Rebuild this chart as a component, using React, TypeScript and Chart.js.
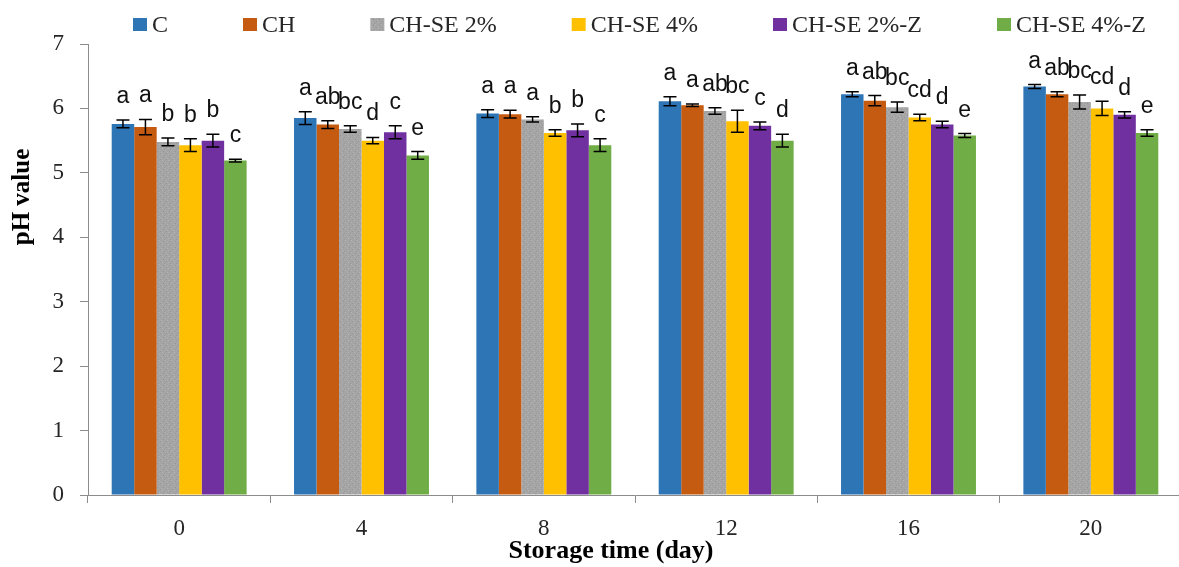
import { useEffect, useRef } from 'react';
import { Chart, registerables } from 'chart.js';

Chart.register(...registerables);

const categories = ['0', '4', '8', '12', '16', '20'];
const seriesNames = ['C', 'CH', 'CH-SE 2%', 'CH-SE 4%', 'CH-SE 2%-Z', 'CH-SE 4%-Z'];

const valuesC = [5.76, 5.85, 5.92, 6.11, 6.22, 6.34];
const valuesCH = [5.71, 5.75, 5.91, 6.05, 6.12, 6.22];
const valuesSE2 = [5.48, 5.68, 5.83, 5.96, 6.02, 6.10];
const valuesSE4 = [5.43, 5.50, 5.62, 5.80, 5.86, 6.00];
const valuesSE2Z = [5.50, 5.63, 5.66, 5.73, 5.75, 5.90];
const valuesSE4Z = [5.19, 5.27, 5.43, 5.50, 5.58, 5.62];

const errC = [0.06, 0.10, 0.06, 0.07, 0.04, 0.03];
const errCH = [0.12, 0.06, 0.06, 0.02, 0.08, 0.04];
const errSE2 = [0.06, 0.05, 0.04, 0.05, 0.08, 0.11];
const errSE4 = [0.10, 0.05, 0.05, 0.17, 0.05, 0.11];
const errSE2Z = [0.10, 0.10, 0.10, 0.06, 0.05, 0.05];
const errSE4Z = [0.02, 0.06, 0.10, 0.10, 0.03, 0.05];

const lettersC = ['a', 'a', 'a', 'a', 'a', 'a'];
const lettersCH = ['a', 'ab', 'a', 'a', 'ab', 'ab'];
const lettersSE2 = ['b', 'bc', 'a', 'ab', 'bc', 'bc'];
const lettersSE4 = ['b', 'd', 'b', 'bc', 'cd', 'cd'];
const lettersSE2Z = ['b', 'c', 'b', 'c', 'd', 'd'];
const lettersSE4Z = ['c', 'e', 'c', 'd', 'e', 'e'];

const yTicks = [0, 1, 2, 3, 4, 5, 6, 7];

const SERIF = '"Liberation Serif", "Times New Roman", serif';
const SANS = '"Liberation Sans", Arial, sans-serif';

function makeTexture(): CanvasPattern | string {
  const c = document.createElement('canvas');
  c.width = 6;
  c.height = 6;
  const g = c.getContext('2d');
  if (!g) return '#A5A5A5';
  g.fillStyle = '#A5A5A5';
  g.fillRect(0, 0, 6, 6);
  g.fillStyle = '#979797';
  g.fillRect(1, 1, 1, 1);
  g.fillRect(4, 3, 1, 1);
  g.fillRect(2, 5, 1, 1);
  g.fillStyle = '#B3B3B3';
  g.fillRect(3, 0, 1, 1);
  g.fillRect(0, 4, 1, 1);
  g.fillRect(5, 2, 1, 1);
  return g.createPattern(c, 'repeat') || '#A5A5A5';
}

export default function App() {
  const ref = useRef<HTMLCanvasElement | null>(null);

  useEffect(() => {
    if (!ref.current) return;
    const texture = makeTexture();
    const colors: any[] = ['#2E75B6', '#C55A11', texture, '#FFC000', '#7030A0', '#70AD47'];
    const values = [valuesC, valuesCH, valuesSE2, valuesSE4, valuesSE2Z, valuesSE4Z];
    const errs = [errC, errCH, errSE2, errSE4, errSE2Z, errSE4Z];
    const letters = [lettersC, lettersCH, lettersSE2, lettersSE4, lettersSE2Z, lettersSE4Z];

    const errorPlugin = {
      id: 'errorLetters',
      afterDatasetsDraw(chart: any) {
        const ctx = chart.ctx;
        const yScale = chart.scales.y;
        ctx.save();
        chart.data.datasets.forEach((ds: any, di: number) => {
          const meta = chart.getDatasetMeta(di);
          meta.data.forEach((bar: any, i: number) => {
            const v = values[di][i];
            const e = errs[di][i];
            const x = bar.x;
            const yTop = yScale.getPixelForValue(v + e);
            const yBot = yScale.getPixelForValue(v - e);
            ctx.strokeStyle = '#000';
            ctx.lineWidth = 1.5;
            ctx.beginPath();
            ctx.moveTo(x, yTop);
            ctx.lineTo(x, yBot);
            ctx.moveTo(x - 6.5, yTop);
            ctx.lineTo(x + 6.5, yTop);
            ctx.moveTo(x - 6.5, yBot);
            ctx.lineTo(x + 6.5, yBot);
            ctx.stroke();
            ctx.fillStyle = '#111';
            ctx.font = '23px ' + SANS;
            ctx.textAlign = 'center';
            ctx.textBaseline = 'alphabetic';
            ctx.fillText(letters[di][i], x, yTop - 17);
          });
        });
        ctx.restore();
      },
      afterDraw(chart: any) {
        const ctx = chart.ctx;
        ctx.save();
        // legend
        ctx.font = '24px ' + SERIF;
        const boxW = 14;
        const boxH = 13;
        const gapText = 5;
        const gapItem = 75;
        let x = 133;
        const ly = 24.5;
        seriesNames.forEach((n, i) => {
          ctx.fillStyle = colors[i];
          ctx.fillRect(x, ly - boxH / 2, boxW, boxH);
          ctx.fillStyle = '#262626';
          ctx.textAlign = 'left';
          ctx.textBaseline = 'middle';
          ctx.fillText(n, x + boxW + gapText, ly + 1);
          x += boxW + gapText + ctx.measureText(n).width + gapItem;
        });
        // axis titles
        ctx.fillStyle = '#000';
        ctx.font = 'bold 26px ' + SERIF;
        ctx.textAlign = 'center';
        ctx.textBaseline = 'middle';
        ctx.fillText('Storage time (day)', 611, 551);
        ctx.font = 'bold 25px ' + SERIF;
        ctx.translate(23, 197);
        ctx.rotate(-Math.PI / 2);
        ctx.fillText('pH value', 0, 0);
        ctx.restore();
      },
    };

    const chart = new Chart(ref.current, {
      type: 'bar',
      data: {
        labels: categories,
        datasets: seriesNames.map((name, i) => ({
          label: name,
          data: values[i],
          backgroundColor: colors[i],
          borderWidth: 0,
          categoryPercentage: 0.74,
          barPercentage: 1.0,
        })),
      },
      options: {
        responsive: false,
        animation: false,
        devicePixelRatio: 1,
        layout: { padding: { top: 44, left: 0, right: 0, bottom: 0 } },
        plugins: {
          legend: { display: false },
          tooltip: { enabled: false },
          title: { display: false },
        },
        scales: {
          x: {
            type: 'category',
            grid: {
              display: true,
              drawOnChartArea: false,
              drawTicks: true,
              tickLength: 8,
              color: '#8c8c8c',
              offset: true,
            },
            border: { display: true, color: '#8c8c8c', width: 1 },
            ticks: {
              font: { family: SERIF, size: 23 },
              color: '#262626',
              padding: 12,
              maxRotation: 0,
            },
            afterFit: (s: any) => {
              s.height = 72;
            },
          },
          y: {
            min: 0,
            max: 7,
            afterBuildTicks: (s: any) => {
              s.ticks = yTicks.map((v) => ({ value: v }));
            },
            grid: {
              display: true,
              drawOnChartArea: false,
              drawTicks: true,
              tickLength: 8,
              color: '#8c8c8c',
            },
            border: { display: true, color: '#8c8c8c', width: 1 },
            ticks: {
              font: { family: SERIF, size: 23 },
              color: '#262626',
              padding: 16,
            },
            afterFit: (s: any) => {
              s.width = 88;
            },
          },
        },
      },
      plugins: [errorPlugin],
    });
    return () => chart.destroy();
  }, []);

  return (
    <div style={{ position: 'fixed', left: 0, top: 0, width: 1179, height: 567, overflow: 'hidden', background: '#fff' }}>
      <canvas ref={ref} width={1182} height={567} style={{ width: 1182, height: 567, display: 'block' }} />
    </div>
  );
}
